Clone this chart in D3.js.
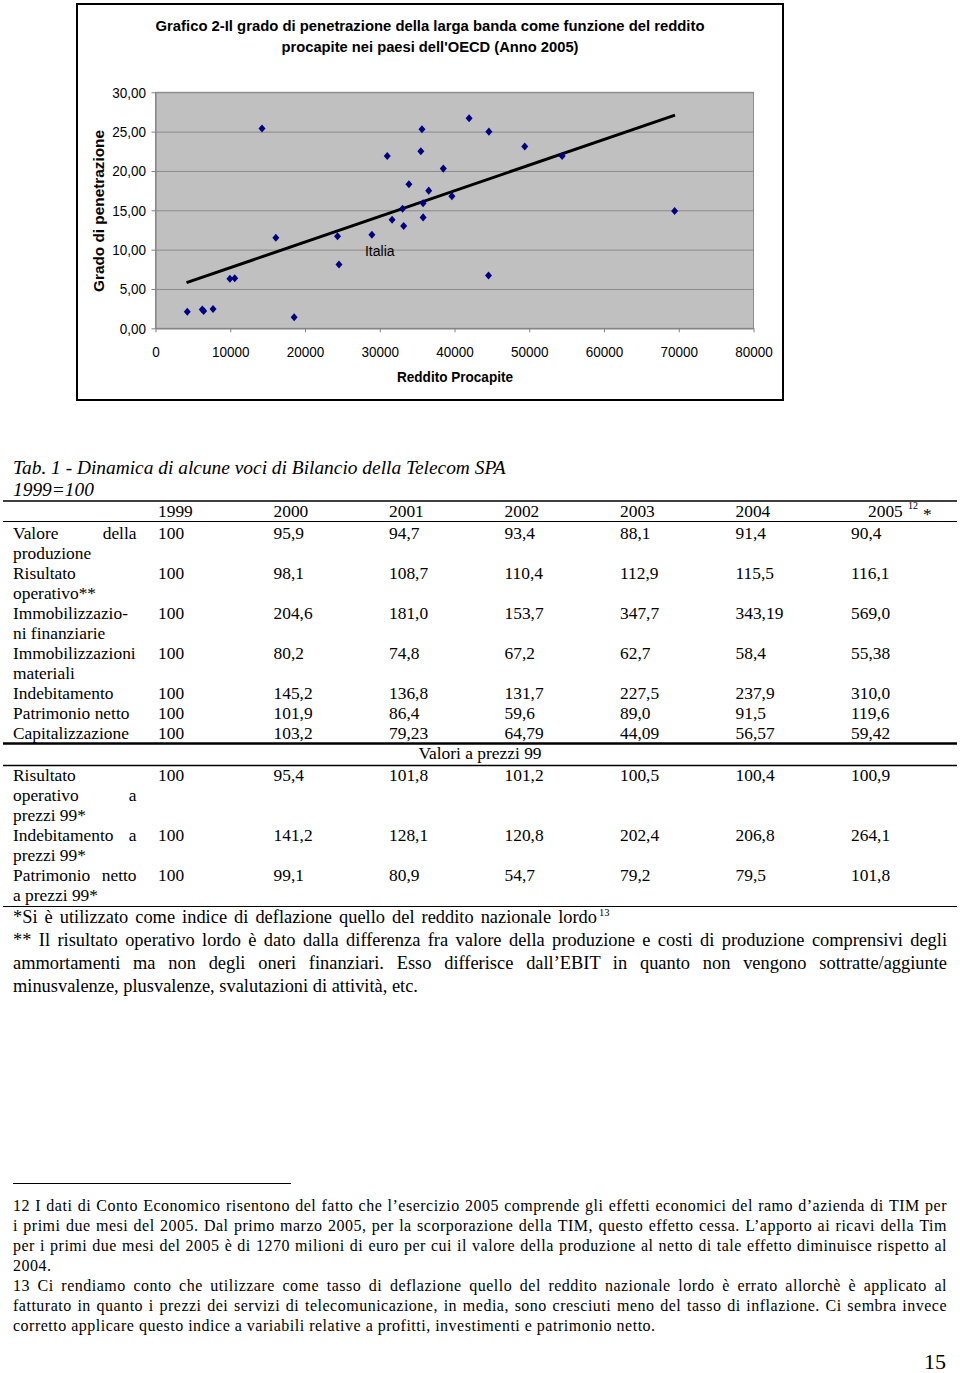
<!DOCTYPE html>
<html>
<head>
<meta charset="utf-8">
<script src="https://cdn.jsdelivr.net/npm/d3@7"></script>
<style>
  body { margin: 0; background: #fff; }
  svg { display: block; }
  .sans { font-family: "Liberation Sans", Arial, sans-serif; fill: #000; }
  .serif { font-family: "Liberation Serif", "Times New Roman", serif; fill: #000; font-size: 17.4px; }
  .note { font-family: "Liberation Serif", "Times New Roman", serif; fill: #000; font-size: 18.4px; }
  .small { font-family: "Liberation Serif", "Times New Roman", serif; fill: #000; font-size: 16px; letter-spacing: 0.5px; }
</style>
</head>
<body>
<svg id="page"></svg>
<script>
// scatter: OECD countries 2005
const redditoProcapite = [4250, 6250, 6450, 7700, 9950, 10600, 14250, 16100, 18550, 24350, 24550, 28950, 31000, 31650, 33050, 33200, 33900, 35500, 35650, 35800, 35800, 36550, 38500, 39650, 41950, 44550, 44600, 49400, 54400, 69450];
const gradoPenetrazione = [2.1, 2.4, 2.2, 2.45, 6.3, 6.35, 25.4, 11.5, 1.4, 11.7, 8.1, 11.9, 21.9, 13.8, 15.2, 13.0, 18.3, 22.5, 25.3, 15.9, 14.1, 17.5, 20.3, 16.8, 26.7, 6.7, 25.0, 23.1, 21.9, 14.9];
const trendX = [4150, 69500];
const trendY = [5.8, 27.1];
const italiaLabel = [30000, 9.2];

const xTicks = [0, 10000, 20000, 30000, 40000, 50000, 60000, 70000, 80000];
const yTicks = [0, 5, 10, 15, 20, 25, 30];
const yTickLabels = ["0,00", "5,00", "10,00", "15,00", "20,00", "25,00", "30,00"];

const chartTitle = [
  "Grafico 2-Il grado di penetrazione della larga banda come funzione del reddito",
  "procapite nei paesi dell'OECD (Anno 2005)"
];

// table
const tableTitle = ["Tab. 1 - Dinamica di alcune voci di Bilancio della Telecom SPA", "1999=100"];
const years = ["1999", "2000", "2001", "2002", "2003", "2004", "2005"];
const rowLabels = [
  ["Valore della", "produzione"],
  ["Risultato", "operativo**"],
  ["Immobilizzazio-", "ni finanziarie"],
  ["Immobilizzazioni", "materiali"],
  ["Indebitamento"],
  ["Patrimonio netto"],
  ["Capitalizzazione"]
];
const rowValues = [
  ["100", "95,9", "94,7", "93,4", "88,1", "91,4", "90,4"],
  ["100", "98,1", "108,7", "110,4", "112,9", "115,5", "116,1"],
  ["100", "204,6", "181,0", "153,7", "347,7", "343,19", "569,0"],
  ["100", "80,2", "74,8", "67,2", "62,7", "58,4", "55,38"],
  ["100", "145,2", "136,8", "131,7", "227,5", "237,9", "310,0"],
  ["100", "101,9", "86,4", "59,6", "89,0", "91,5", "119,6"],
  ["100", "103,2", "79,23", "64,79", "44,09", "56,57", "59,42"]
];
const deflTitle = "Valori a prezzi 99";
const deflLabels = [
  ["Risultato", "operativo a", "prezzi 99*"],
  ["Indebitamento a", "prezzi 99*"],
  ["Patrimonio netto", "a prezzi 99*"]
];
const deflValues = [
  ["100", "95,4", "101,8", "101,2", "100,5", "100,4", "100,9"],
  ["100", "141,2", "128,1", "120,8", "202,4", "206,8", "264,1"],
  ["100", "99,1", "80,9", "54,7", "79,2", "79,5", "101,8"]
];
const notes = [
  "*Si è utilizzato come indice di deflazione quello del reddito nazionale lordo",
  "** Il risultato operativo lordo è dato dalla differenza fra valore della produzione e costi di produzione comprensivi degli",
  "ammortamenti ma non degli oneri finanziari. Esso differisce dall’EBIT in quanto non vengono sottratte/aggiunte",
  "minusvalenze, plusvalenze, svalutazioni di attività, etc."
];
const footnotes = [
  ["12 I dati di Conto Economico risentono del fatto che l’esercizio 2005 comprende gli effetti economici del ramo d’azienda di TIM per",
   "i primi due mesi del 2005. Dal primo marzo 2005, per la scorporazione della TIM, questo effetto cessa. L’apporto ai ricavi della Tim",
   "per i primi due mesi del 2005 è di 1270 milioni di euro per cui il valore della produzione al netto di tale effetto diminuisce rispetto al",
   "2004."],
  ["13 Ci rendiamo conto che utilizzare come tasso di deflazione quello del reddito nazionale lordo è errato allorchè è applicato al",
   "fatturato in quanto i prezzi dei servizi di telecomunicazione, in media, sono cresciuti meno del tasso di inflazione. Ci sembra invece",
   "corretto applicare questo indice a variabili relative a profitti, investimenti e patrimonio netto."]
];
const pageNumber = "15";

const width = 960;
const height = 1373;

const svg = d3.select("#page").attr("width", width).attr("height", height);

const condense = (sel, k) =>
  sel.each(function () {
    const w = this.getComputedTextLength();
    d3.select(this).attr("textLength", w * k).attr("lengthAdjust", "spacingAndGlyphs");
  });

const fitTo = (sel, w) => sel.attr("textLength", w).attr("lengthAdjust", "spacingAndGlyphs");

// word-by-word justified line
const justify = (g, str, x0, x1, yb, cls) => {
  const words = str.split(" ");
  const t = g.append("text").attr("class", cls).attr("y", yb);
  const spans = words.map((w) => t.append("tspan").text(w));
  const widths = spans.map((s) => s.node().getComputedTextLength());
  const gap = (x1 - x0 - d3.sum(widths)) / (words.length - 1);
  let xx = x0;
  spans.forEach((s, i) => {
    s.attr("x", xx);
    xx += widths[i] + gap;
  });
  return t;
};

// ---------- chart ----------
const chart = svg.append("g");

chart.append("rect")
  .attr("x", 77).attr("y", 4).attr("width", 706).attr("height", 396)
  .attr("fill", "#fff").attr("stroke", "#000").attr("stroke-width", 2);

const x = d3.scaleLinear().domain([0, 80000]).range([155.5, 753.5]);
const y = d3.scaleLinear().domain([0, 30]).range([328.3, 92.3]);

chart.append("rect")
  .attr("x", x(0)).attr("y", y(30))
  .attr("width", x(80000) - x(0)).attr("height", y(0) - y(30))
  .attr("fill", "#c0c0c0").attr("stroke", "#8c8c8c");

const grid = chart.append("g")
  .attr("transform", `translate(${x(0)},0)`)
  .call(d3.axisLeft(y).tickValues(yTicks).tickSize(-(x(80000) - x(0))).tickFormat(""));
grid.select(".domain").remove();
grid.selectAll("line").attr("stroke", "#8a8a8a");

const yAxis = chart.append("g")
  .attr("transform", `translate(${x(0)},0)`)
  .call(d3.axisLeft(y).tickValues(yTicks).tickFormat((d, i) => yTickLabels[i])
    .tickSize(4).tickSizeOuter(0).tickPadding(5.5));
yAxis.attr("font-size", null).attr("font-family", null);
yAxis.selectAll("path, line").attr("stroke", "#808080");
yAxis.selectAll("text").attr("class", "sans").attr("font-size", 15).attr("fill", "#000").call(condense, 0.9);

const xAxis = chart.append("g")
  .attr("transform", `translate(0,${y(0)})`)
  .call(d3.axisBottom(x).tickValues(xTicks).tickFormat(d3.format("d"))
    .tickSize(4).tickSizeOuter(0).tickPadding(14));
xAxis.attr("font-size", null).attr("font-family", null);
xAxis.selectAll("path, line").attr("stroke", "#808080");
xAxis.selectAll("text").attr("class", "sans").attr("font-size", 15).attr("fill", "#000").call(condense, 0.9);

const trendLine = d3.line().x((d) => x(d[0])).y((d) => y(d[1]));
chart.append("path")
  .datum(d3.zip(trendX, trendY))
  .attr("d", trendLine)
  .attr("fill", "none").attr("stroke", "#000").attr("stroke-width", 3);

const diamond = {
  draw(ctx, size) {
    const w = Math.sqrt(size) / 2;
    const h = w * 1.15;
    ctx.moveTo(0, -h);
    ctx.lineTo(w, 0);
    ctx.lineTo(0, h);
    ctx.lineTo(-w, 0);
    ctx.closePath();
  }
};

chart.append("g")
  .selectAll("path")
  .data(d3.zip(redditoProcapite, gradoPenetrazione))
  .enter()
  .append("path")
  .attr("transform", (d) => `translate(${x(d[0])},${y(d[1])})`)
  .attr("d", d3.symbol().type(diamond).size(49))
  .attr("fill", "#000080");

chart.append("text")
  .attr("class", "sans").attr("font-size", 14)
  .attr("x", x(italiaLabel[0])).attr("y", y(italiaLabel[1]))
  .attr("text-anchor", "middle").attr("fill", "#222")
  .text("Italia");

chart.selectAll(".title")
  .data(chartTitle)
  .enter()
  .append("text")
  .attr("class", "sans title")
  .attr("x", 430).attr("y", (d, i) => 31 + i * 21.3)
  .attr("text-anchor", "middle")
  .attr("font-size", 14.5).attr("font-weight", "bold")
  .text((d) => d)
  .each(function (d, i) { fitTo(d3.select(this), i === 0 ? 549 : 297); });

chart.append("text")
  .attr("class", "sans").attr("x", 455).attr("y", 382)
  .attr("text-anchor", "middle").attr("font-size", 15).attr("font-weight", "bold")
  .text("Reddito Procapite")
  .call(fitTo, 116);

chart.append("text")
  .attr("class", "sans")
  .attr("transform", "translate(104,211) rotate(-90)")
  .attr("text-anchor", "middle").attr("font-size", 15).attr("font-weight", "bold")
  .text("Grado di penetrazione")
  .call(fitTo, 162);

// ---------- table ----------
const table = svg.append("g");
const col = d3.scaleLinear().domain([0, years.length - 1]).range([158, 851]);

table.selectAll(".ttl")
  .data(tableTitle)
  .enter()
  .append("text")
  .attr("class", "serif ttl")
  .style("font-style", "italic").style("font-size", "19.4px")
  .attr("x", 13).attr("y", (d, i) => 474 + i * 22)
  .text((d) => d);

const rule = (yy, w) =>
  table.append("line").attr("x1", 3).attr("x2", 957).attr("y1", yy).attr("y2", yy)
    .attr("stroke", "#000").attr("stroke-width", w);

rule(501, 1.5);
rule(521.5, 1.2);
rule(743.5, 2.5);
rule(765.5, 1.5);
rule(906.5, 1.2);

years.forEach((yr, i) => {
  table.append("text").attr("class", "serif")
    .attr("x", i === years.length - 1 ? 868 : col(i)).attr("y", 517).text(yr);
});
table.append("text").attr("class", "serif").style("font-size", "10px")
  .attr("x", 908).attr("y", 509).text("12");
table.append("text").attr("class", "serif")
  .attr("x", 923).attr("y", 520).text("*");

const drawRows = (labels, values, start) => {
  let yb = start;
  labels.forEach((lines, r) => {
    lines.forEach((ln, j) => {
      const yy = yb + 20 * j;
      if (j < lines.length - 1 && ln.includes(" ")) {
        justify(table, ln, 13, 136.5, yy, "serif");
      } else {
        table.append("text").attr("class", "serif").attr("x", 13).attr("y", yy).text(ln);
      }
    });
    values[r].forEach((v, i) => {
      table.append("text").attr("class", "serif").attr("x", col(i)).attr("y", yb).text(v);
    });
    yb += 20 * lines.length;
  });
  return yb;
};

drawRows(rowLabels, rowValues, 539.3);
table.append("text").attr("class", "serif")
  .attr("x", 480).attr("y", 759).attr("text-anchor", "middle").text(deflTitle);
drawRows(deflLabels, deflValues, 781);

// ---------- notes under the table ----------
// first line ends with a manual break and is stretched up to the superscript
justify(svg, notes[0], 13, 597, 923, "note");
svg.append("text").attr("class", "serif").style("font-size", "10.5px")
  .attr("x", 599).attr("y", 916).text("13");
justify(svg, notes[1], 13, 947, 946, "note");
justify(svg, notes[2], 13, 947, 969, "note");
svg.append("text").attr("class", "note").attr("x", 13).attr("y", 992).text(notes[3]);

// ---------- footnotes ----------
svg.append("line").attr("x1", 13).attr("x2", 291).attr("y1", 1183.5).attr("y2", 1183.5)
  .attr("stroke", "#000").attr("stroke-width", 1);

let fy = 1211;
footnotes.forEach((lines) => {
  lines.forEach((ln, j) => {
    if (j < lines.length - 1) {
      justify(svg, ln, 13, 947, fy, "small");
    } else {
      svg.append("text").attr("class", "small").attr("x", 13).attr("y", fy).text(ln);
    }
    fy += 20;
  });
});

svg.append("text").attr("class", "serif").style("font-size", "22px")
  .attr("x", 946).attr("y", 1369).attr("text-anchor", "end").text(pageNumber);
</script>
</body>
</html>
